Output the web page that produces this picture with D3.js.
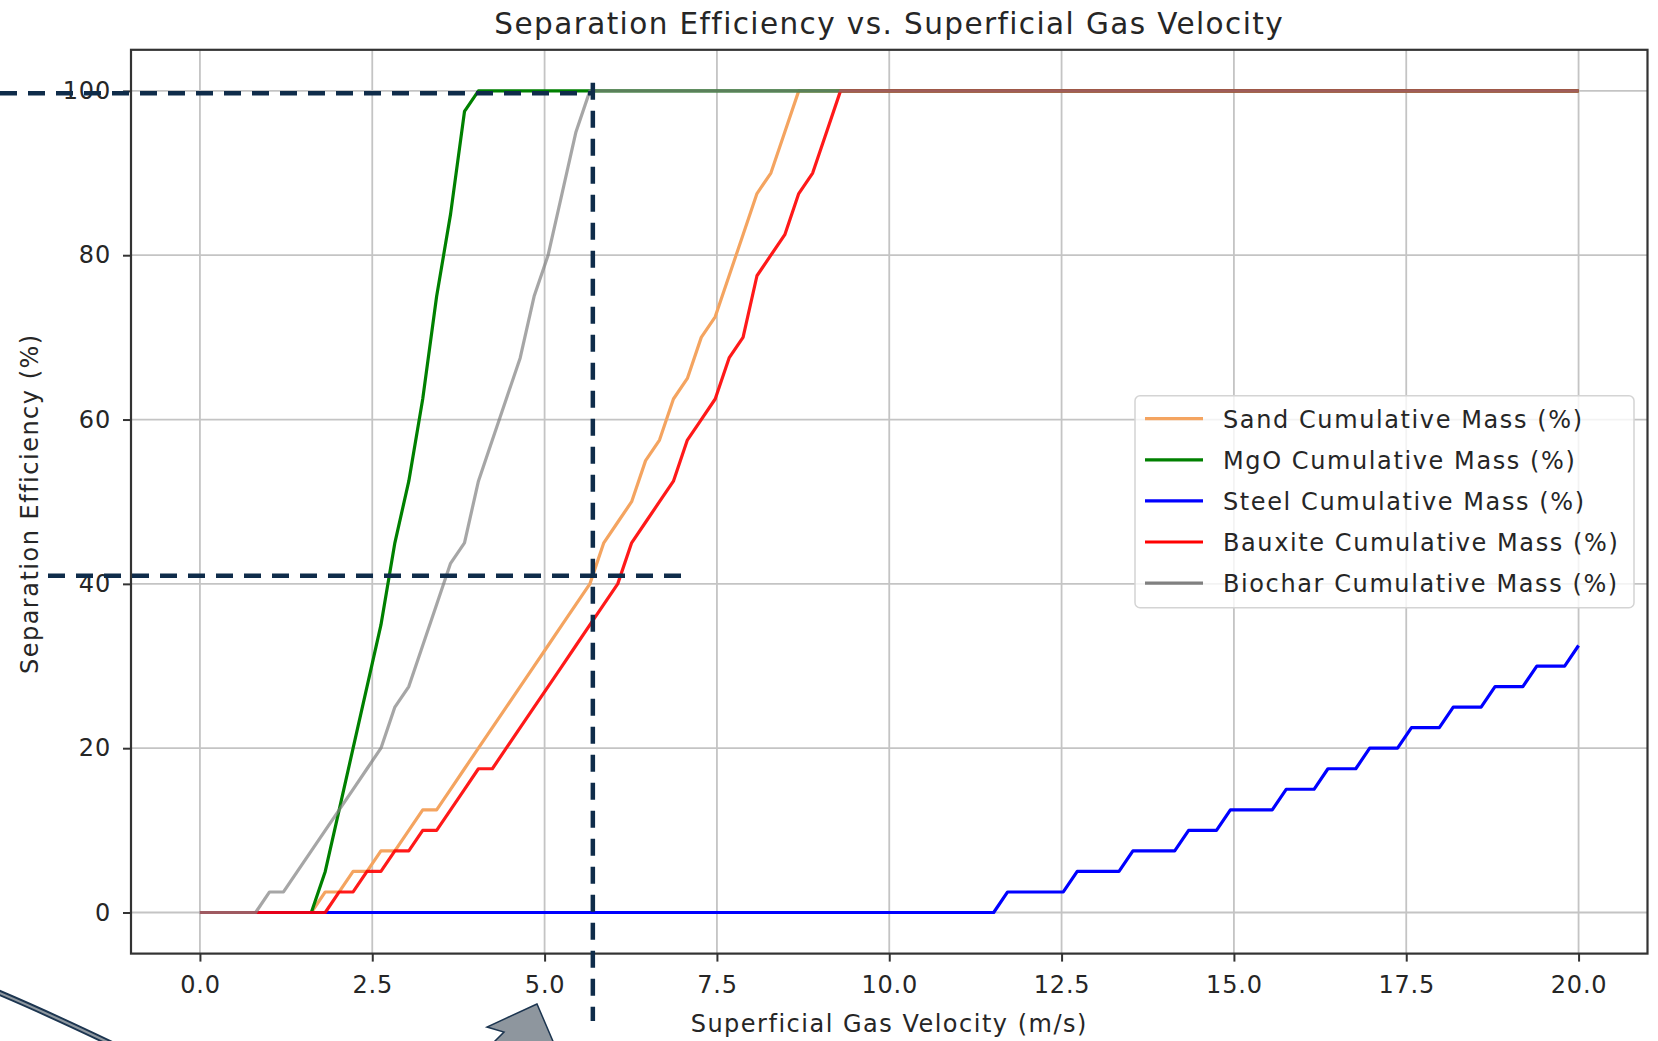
<!DOCTYPE html>
<html lang="en">
<head>
	<meta charset="utf-8">
	<title>Separation Efficiency vs. Superficial Gas Velocity</title>
	<script type="text/javascript" src="https://d3js.org/d3.v7.min.js"></script>
	<style type="text/css">
		body { margin: 0; background: #ffffff; }
		svg { display: block; }
		text { font-family: "DejaVu Sans", sans-serif; fill: #262626; }
	</style>
</head>
<body>
	<script type="text/javascript">

		// superficial gas velocity (m/s), sampled points
		var velocity = [
			0.000, 0.202, 0.404, 0.606, 0.808, 1.010, 1.212, 1.414, 1.616, 1.818,
			2.020, 2.222, 2.424, 2.626, 2.828, 3.030, 3.232, 3.434, 3.636, 3.838,
			4.040, 4.242, 4.444, 4.646, 4.848, 5.051, 5.253, 5.455, 5.657, 5.859,
			6.061, 6.263, 6.465, 6.667, 6.869, 7.071, 7.273, 7.475, 7.677, 7.879,
			8.081, 8.283, 8.485, 8.687, 8.889, 9.091, 9.293, 9.495, 9.697, 9.899,
			10.101, 10.303, 10.505, 10.707, 10.909, 11.111, 11.313, 11.515, 11.717, 11.919,
			12.121, 12.323, 12.525, 12.727, 12.929, 13.131, 13.333, 13.535, 13.737, 13.939,
			14.141, 14.343, 14.545, 14.747, 14.949, 15.152, 15.354, 15.556, 15.758, 15.960,
			16.162, 16.364, 16.566, 16.768, 16.970, 17.172, 17.374, 17.576, 17.778, 17.980,
			18.182, 18.384, 18.586, 18.788, 18.990, 19.192, 19.394, 19.596, 19.798, 20.000
		];

		var sandMass = [
			0, 0, 0, 0, 0, 0, 0, 0, 0, 2.5,
			2.5, 5, 5, 7.5, 7.5, 10, 12.5, 12.5, 15, 17.5,
			20, 22.5, 25, 27.5, 30, 32.5, 35, 37.5, 40, 45,
			47.5, 50, 55, 57.5, 62.5, 65, 70, 72.5, 77.5, 82.5,
			87.5, 90, 95, 100, 100, 100, 100, 100, 100, 100,
			100, 100, 100, 100, 100, 100, 100, 100, 100, 100,
			100, 100, 100, 100, 100, 100, 100, 100, 100, 100,
			100, 100, 100, 100, 100, 100, 100, 100, 100, 100,
			100, 100, 100, 100, 100, 100, 100, 100, 100, 100,
			100, 100, 100, 100, 100, 100, 100, 100, 100, 100
		];

		var mgoMass = [
			0, 0, 0, 0, 0, 0, 0, 0, 0, 5,
			12.5, 20, 27.5, 35, 45, 52.5, 62.5, 75, 85, 97.5,
			100, 100, 100, 100, 100, 100, 100, 100, 100, 100,
			100, 100, 100, 100, 100, 100, 100, 100, 100, 100,
			100, 100, 100, 100, 100, 100, 100, 100, 100, 100,
			100, 100, 100, 100, 100, 100, 100, 100, 100, 100,
			100, 100, 100, 100, 100, 100, 100, 100, 100, 100,
			100, 100, 100, 100, 100, 100, 100, 100, 100, 100,
			100, 100, 100, 100, 100, 100, 100, 100, 100, 100,
			100, 100, 100, 100, 100, 100, 100, 100, 100, 100
		];

		var steelMass = [
			0, 0, 0, 0, 0, 0, 0, 0, 0, 0,
			0, 0, 0, 0, 0, 0, 0, 0, 0, 0,
			0, 0, 0, 0, 0, 0, 0, 0, 0, 0,
			0, 0, 0, 0, 0, 0, 0, 0, 0, 0,
			0, 0, 0, 0, 0, 0, 0, 0, 0, 0,
			0, 0, 0, 0, 0, 0, 0, 0, 2.5, 2.5,
			2.5, 2.5, 2.5, 5, 5, 5, 5, 7.5, 7.5, 7.5,
			7.5, 10, 10, 10, 12.5, 12.5, 12.5, 12.5, 15, 15,
			15, 17.5, 17.5, 17.5, 20, 20, 20, 22.5, 22.5, 22.5,
			25, 25, 25, 27.5, 27.5, 27.5, 30, 30, 30, 32.5
		];

		var bauxiteMass = [
			0, 0, 0, 0, 0, 0, 0, 0, 0, 0,
			2.5, 2.5, 5, 5, 7.5, 7.5, 10, 10, 12.5, 15,
			17.5, 17.5, 20, 22.5, 25, 27.5, 30, 32.5, 35, 37.5,
			40, 45, 47.5, 50, 52.5, 57.5, 60, 62.5, 67.5, 70,
			77.5, 80, 82.5, 87.5, 90, 95, 100, 100, 100, 100,
			100, 100, 100, 100, 100, 100, 100, 100, 100, 100,
			100, 100, 100, 100, 100, 100, 100, 100, 100, 100,
			100, 100, 100, 100, 100, 100, 100, 100, 100, 100,
			100, 100, 100, 100, 100, 100, 100, 100, 100, 100,
			100, 100, 100, 100, 100, 100, 100, 100, 100, 100
		];

		var biocharMass = [
			0, 0, 0, 0, 0, 2.5, 2.5, 5, 7.5, 10,
			12.5, 15, 17.5, 20, 25, 27.5, 32.5, 37.5, 42.5, 45,
			52.5, 57.5, 62.5, 67.5, 75, 80, 87.5, 95, 100, 100,
			100, 100, 100, 100, 100, 100, 100, 100, 100, 100,
			100, 100, 100, 100, 100, 100, 100, 100, 100, 100,
			100, 100, 100, 100, 100, 100, 100, 100, 100, 100,
			100, 100, 100, 100, 100, 100, 100, 100, 100, 100,
			100, 100, 100, 100, 100, 100, 100, 100, 100, 100,
			100, 100, 100, 100, 100, 100, 100, 100, 100, 100,
			100, 100, 100, 100, 100, 100, 100, 100, 100, 100
		];

		var seriesNames = ["Sand Cumulative Mass (%)", "MgO Cumulative Mass (%)", "Steel Cumulative Mass (%)",
			"Bauxite Cumulative Mass (%)", "Biochar Cumulative Mass (%)"];
		var seriesValues = [sandMass, mgoMass, steelMass, bauxiteMass, biocharMass];

		var xTicks = [0, 2.5, 5, 7.5, 10, 12.5, 15, 17.5, 20];
		var yTicks = [0, 20, 40, 60, 80, 100];

		// hand-drawn guide marks on top of the plot (velocity, efficiency levels)
		var guideVelocity = 5.7;
		var guideLevels = [99.7, 41];

		var colors = ["#f4a460", "#008000", "#0000ff", "#ff0000", "#808080"];
		var opacities = [1, 1, 1, 0.9, 0.7];

		var width = 1658, height = 1041;
		var plot = { left: 131, right: 1647.5, top: 49.8, bottom: 953.6 };

		var x = d3.scaleLinear().domain([-1, 21]).range([plot.left, plot.right]);
		var y = d3.scaleLinear().domain([-5, 105]).range([plot.bottom, plot.top]);

		var svg = d3.select("body")
			.append("svg")
			.attr("width", width)
			.attr("height", height);

		svg.append("rect")
			.attr("width", width)
			.attr("height", height)
			.attr("fill", "#ffffff");

		// grid
		svg.append("g")
			.selectAll("line")
			.data(xTicks)
			.enter()
			.append("line")
			.attr("x1", function(d) { return x(d); })
			.attr("x2", function(d) { return x(d); })
			.attr("y1", plot.top)
			.attr("y2", plot.bottom)
			.attr("stroke", "#c4c4c4")
			.attr("stroke-width", 1.8);

		svg.append("g")
			.selectAll("line")
			.data(yTicks)
			.enter()
			.append("line")
			.attr("x1", plot.left)
			.attr("x2", plot.right)
			.attr("y1", function(d) { return y(d); })
			.attr("y2", function(d) { return y(d); })
			.attr("stroke", "#c4c4c4")
			.attr("stroke-width", 1.8);

		// axes
		var xAxis = svg.append("g")
			.attr("transform", "translate(0," + plot.bottom + ")")
			.call(d3.axisBottom(x).tickValues(xTicks).tickSize(8).tickPadding(6)
				.tickFormat(d3.format(".1f")));

		var yAxis = svg.append("g")
			.attr("transform", "translate(" + plot.left + ",0)")
			.call(d3.axisLeft(y).tickValues(yTicks).tickSize(8).tickPadding(12)
				.tickFormat(d3.format("d")));

		[xAxis, yAxis].forEach(function(g) {
			g.select(".domain").remove();
			g.selectAll(".tick line").attr("stroke", "#333333").attr("stroke-width", 2);
			g.selectAll(".tick text")
				.attr("font-family", "DejaVu Sans")
				.attr("font-size", 24)
				.attr("letter-spacing", 0.8)
				.attr("fill", "#262626");
		});
		xAxis.selectAll(".tick text").attr("dy", "1.05em");

		// series lines
		var line = d3.line()
			.x(function(d) { return x(d[0]); })
			.y(function(d) { return y(d[1]); });

		svg.append("clipPath").attr("id", "plot-clip")
			.append("rect")
			.attr("x", plot.left)
			.attr("y", plot.top)
			.attr("width", plot.right - plot.left)
			.attr("height", plot.bottom - plot.top);

		svg.append("g")
			.attr("clip-path", "url(#plot-clip)")
			.selectAll("path")
			.data(seriesValues)
			.enter()
			.append("path")
			.attr("d", function(vals) {
				return line(vals.map(function(v, i) { return [velocity[i], v]; }));
			})
			.attr("fill", "none")
			.attr("stroke", function(d, i) { return colors[i]; })
			.attr("stroke-opacity", function(d, i) { return opacities[i]; })
			.attr("stroke-width", 3.2)
			.attr("stroke-linejoin", "round");

		// frame
		svg.append("rect")
			.attr("x", plot.left)
			.attr("y", plot.top)
			.attr("width", plot.right - plot.left)
			.attr("height", plot.bottom - plot.top)
			.attr("fill", "none")
			.attr("stroke", "#333333")
			.attr("stroke-width", 2.2);

		// legend, centre right
		var legendW = 499, legendH = 212, rowGap = 41.1;
		var legendX = plot.right - 13.5 - legendW;
		var legendY = (plot.top + plot.bottom) / 2 - legendH / 2;

		var legend = svg.append("g")
			.attr("transform", "translate(" + legendX + "," + legendY + ")");

		legend.append("rect")
			.attr("width", legendW)
			.attr("height", legendH)
			.attr("rx", 5)
			.attr("fill", "#ffffff")
			.attr("fill-opacity", 0.8)
			.attr("stroke", "#d4d4d4")
			.attr("stroke-width", 1.5);

		var item = legend.selectAll(".item")
			.data(seriesNames)
			.enter()
			.append("g")
			.attr("class", "item")
			.attr("transform", function(d, i) {
				return "translate(0," + (23 + i * rowGap) + ")";
			});

		item.append("line")
			.attr("x1", 10)
			.attr("x2", 68)
			.attr("stroke", function(d, i) { return colors[i]; })
			.attr("stroke-width", 3.2);

		item.append("text")
			.attr("x", 88)
			.attr("y", 9)
			.attr("font-size", 24)
			.attr("letter-spacing", 1.6)
			.text(function(d) { return d; });

		// titles
		svg.append("text")
			.attr("x", (plot.left + plot.right) / 2)
			.attr("y", 34)
			.attr("text-anchor", "middle")
			.attr("font-size", 29.5)
			.attr("letter-spacing", 1.4)
			.text("Separation Efficiency vs. Superficial Gas Velocity");

		svg.append("text")
			.attr("x", (plot.left + plot.right) / 2)
			.attr("y", 1032)
			.attr("text-anchor", "middle")
			.attr("font-size", 24)
			.attr("letter-spacing", 1.5)
			.text("Superficial Gas Velocity (m/s)");

		svg.append("text")
			.attr("transform", "translate(38," + ((plot.top + plot.bottom) / 2 + 2) + ") rotate(-90)")
			.attr("text-anchor", "middle")
			.attr("font-size", 24)
			.attr("letter-spacing", 1.5)
			.text("Separation Efficiency (%)");

		// guide marks drawn over the chart
		var guideColor = "#0f2c4a";
		var guides = svg.append("g")
			.attr("stroke", guideColor)
			.attr("stroke-width", 4.5)
			.attr("stroke-dasharray", "17,11")
			.attr("fill", "none");

		guides.append("line")
			.attr("x1", 0)
			.attr("x2", x(guideVelocity))
			.attr("y1", y(guideLevels[0]))
			.attr("y2", y(guideLevels[0]));

		guides.append("line")
			.attr("x1", 48)
			.attr("x2", x(guideVelocity + 1.4))
			.attr("y1", y(guideLevels[1]))
			.attr("y2", y(guideLevels[1]));

		guides.append("line")
			.attr("x1", x(guideVelocity))
			.attr("x2", x(guideVelocity))
			.attr("y1", y(101))
			.attr("y2", 1021);

		// curved arrow fragments at the bottom edge
		svg.append("path")
			.attr("d", "M -5 991 Q 45 1012 116 1046")
			.attr("fill", "none")
			.attr("stroke", "#1c3550")
			.attr("stroke-width", 6);

		svg.append("path")
			.attr("d", "M -5 991 Q 45 1012 116 1046")
			.attr("fill", "none")
			.attr("stroke", "#8e979f")
			.attr("stroke-width", 2.2);

		svg.append("path")
			.attr("d", "M 537 1004 L 487 1027 L 504 1032 L 490 1046 L 555 1046 Z")
			.attr("fill", "#8e969e")
			.attr("stroke", "#1c3550")
			.attr("stroke-width", 1.5);

	</script>
</body>
</html>
